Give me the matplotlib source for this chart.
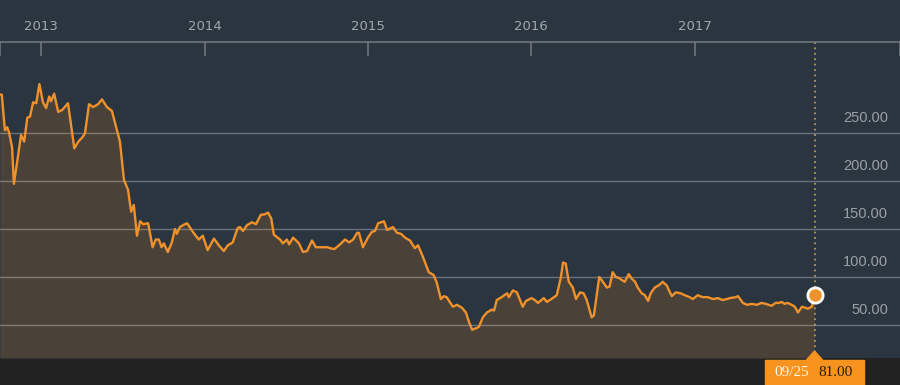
import pandas as pd
import matplotlib
matplotlib.use('Agg')
import matplotlib.pyplot as plt
from matplotlib.patches import Rectangle, Polygon

# price series
dates = ['2012-10-01', '2012-10-05', '2012-10-12', '2012-10-17', '2012-10-21', '2012-10-28',
         '2012-11-01', '2012-11-10', '2012-11-17', '2012-11-24', '2012-12-01', '2012-12-07',
         '2012-12-14', '2012-12-21', '2012-12-28', '2013-01-05', '2013-01-12', '2013-01-19',
         '2013-01-23', '2013-01-30', '2013-02-08', '2013-02-17', '2013-03-02', '2013-03-16',
         '2013-03-25', '2013-04-04', '2013-04-09', '2013-04-18', '2013-04-27', '2013-05-08',
         '2013-05-17', '2013-05-28', '2013-06-08', '2013-06-26', '2013-07-05', '2013-07-14',
         '2013-07-21', '2013-07-27', '2013-08-03', '2013-08-10', '2013-08-17', '2013-08-28',
         '2013-09-07', '2013-09-14', '2013-09-21', '2013-09-27', '2013-10-02', '2013-10-11',
         '2013-10-20', '2013-10-27', '2013-10-31', '2013-11-07', '2013-11-14', '2013-11-23',
         '2013-12-06', '2013-12-19', '2013-12-28', '2014-01-08', '2014-01-22', '2014-02-02',
         '2014-02-13', '2014-02-22', '2014-03-05', '2014-03-16', '2014-03-21', '2014-03-28',
         '2014-04-06', '2014-04-17', '2014-04-26', '2014-05-07', '2014-05-14', '2014-05-23',
         '2014-05-30', '2014-06-05', '2014-06-19', '2014-06-25', '2014-07-04', '2014-07-09',
         '2014-07-18', '2014-07-31', '2014-08-09', '2014-08-18', '2014-08-29', '2014-09-07',
         '2014-10-02', '2014-10-09', '2014-10-18', '2014-10-31', '2014-11-11', '2014-11-20',
         '2014-11-29', '2014-12-08', '2014-12-12', '2014-12-21', '2015-01-01', '2015-01-10',
         '2015-01-17', '2015-01-24', '2015-02-06', '2015-02-13', '2015-02-26', '2015-03-07',
         '2015-03-16', '2015-03-25', '2015-04-05', '2015-04-16', '2015-04-23', '2015-05-04',
         '2015-05-17', '2015-05-28', '2015-06-04', '2015-06-13', '2015-06-20', '2015-06-26',
         '2015-07-03', '2015-07-10', '2015-07-19', '2015-07-30', '2015-08-08', '2015-08-15',
         '2015-08-22', '2015-09-02', '2015-09-06', '2015-09-15', '2015-09-24', '2015-10-05',
         '2015-10-10', '2015-10-16', '2015-10-27', '2015-11-08', '2015-11-12', '2015-11-21',
         '2015-11-30', '2015-12-13', '2015-12-20', '2016-01-02', '2016-01-09', '2016-01-16',
         '2016-01-29', '2016-02-05', '2016-02-18', '2016-02-27', '2016-03-07', '2016-03-12',
         '2016-03-18', '2016-03-25', '2016-04-03', '2016-04-10', '2016-04-19', '2016-04-27',
         '2016-05-04', '2016-05-15', '2016-05-20', '2016-06-01', '2016-06-09', '2016-06-18',
         '2016-06-24', '2016-07-01', '2016-07-08', '2016-07-15', '2016-07-21', '2016-07-28',
         '2016-08-06', '2016-08-13', '2016-08-20', '2016-08-26', '2016-09-04', '2016-09-11',
         '2016-09-18', '2016-09-24', '2016-10-03', '2016-10-14', '2016-10-21', '2016-10-30',
         '2016-11-10', '2016-11-19', '2016-11-30', '2016-12-09', '2016-12-20', '2016-12-27',
         '2017-01-07', '2017-01-18', '2017-01-29', '2017-02-10', '2017-02-21', '2017-03-04',
         '2017-03-13', '2017-03-20', '2017-04-02', '2017-04-07', '2017-04-18', '2017-04-27',
         '2017-05-08', '2017-05-19', '2017-05-30', '2017-06-08', '2017-06-21', '2017-06-30',
         '2017-07-07', '2017-07-14', '2017-07-20', '2017-07-27', '2017-08-05', '2017-08-12',
         '2017-08-19', '2017-08-28', '2017-09-04', '2017-09-10', '2017-09-19', '2017-09-25']
prices = [290, 290, 253, 256, 251, 235, 197, 225, 248, 241, 266, 267,
          282, 281, 301, 282, 276, 288, 283, 291, 272, 274, 281, 234,
          241, 246, 250, 280, 277, 280, 285, 277, 273, 241, 201, 191,
          168, 175, 143, 158, 155, 156, 131, 139, 139, 131, 135, 126,
          136, 150, 145, 152, 154, 156, 147, 139, 143, 128, 140, 133,
          127, 133, 136, 151, 152, 148, 154, 157, 155, 165, 165, 167,
          161, 144, 139, 135, 139, 134, 141, 135, 126, 127, 138, 131,
          131, 130, 129, 134, 139, 136, 139, 146, 146, 131, 141, 147,
          148, 156, 158, 149, 152, 146, 145, 141, 138, 130, 133, 121,
          105, 102, 94, 77, 80, 79, 74, 69, 71, 68, 63, 53,
          45, 47, 48, 58, 63, 66, 65, 76, 79, 83, 79, 86,
          84, 69, 75, 78, 76, 73, 78, 74, 78, 81, 99, 115,
          114, 95, 89, 77, 84, 83, 76, 58, 60, 100, 95, 89,
          90, 105, 100, 99, 97, 95, 103, 98, 95, 89, 83, 81,
          75, 83, 89, 92, 95, 91, 80, 84, 83, 81, 79, 77,
          81, 79, 79, 77, 78, 76, 77, 78, 79, 80, 73, 71,
          72, 71, 73, 72, 70, 73, 73, 74, 72, 73, 71, 69,
          63, 69, 68, 67, 69, 81]

years = ['2013', '2014', '2015', '2016', '2017']
y_ticks = [50, 100, 150, 200, 250]
last_label = '09/25'
last_value = 81.00

bg = '#2b3540'
orange = '#f0922b'
fill_col = '#4a4139'
axis_col = '#6f757c'

dates = pd.to_datetime(dates)

fig = plt.figure(figsize=(9, 3.85), dpi=100)
fig.patch.set_facecolor(bg)
ax = fig.add_axes([0, 27 / 385, 1, 316 / 385])
ax.set_facecolor(bg)

ymin = 15.6
ax.fill_between(dates, prices, ymin, color=fill_col, lw=0, zorder=1)
ax.plot(dates, prices, color=orange, lw=1.7, zorder=3, solid_joinstyle='round')

ax.set_xlim(pd.Timestamp('2012-10-01'), pd.Timestamp('2018-04-04'))
ax.set_ylim(ymin, 344.8)

# top axis with year ticks
ax.xaxis.tick_top()
ax.set_xticks([pd.Timestamp(y + '-01-01') for y in years])
ax.set_xticklabels(years)
ax.set_xticks(list(ax.get_xlim()), minor=True)
ax.tick_params(axis='x', which='both', direction='in', length=10, width=1.2,
               color=axis_col, labelcolor='#a3a8ad', labelsize=9.5, pad=6.5)
ax.tick_params(axis='x', which='minor', labeltop=False)
for s in ['left', 'right', 'bottom']:
    ax.spines[s].set_visible(False)
ax.spines['top'].set_color(axis_col)
ax.spines['top'].set_linewidth(1.2)

ax.set_yticks(y_ticks)
ax.tick_params(axis='y', length=0, labelleft=False)
ax.yaxis.grid(True, color='white', alpha=0.3, lw=1)
ax.set_axisbelow(False)
for v in y_ticks:
    ax.text(0.9867, v + 15.6, '{:.2f}'.format(v), transform=ax.get_yaxis_transform(),
            ha='right', va='center', color='#9ba0a6', fontsize=10.5,
            family='Liberation Sans')

# last value marker
last_date = dates[-1]
ax.axvline(last_date, color='#b39a5c', ls=(0, (1, 2)), lw=1.3, zorder=2)
ax.plot(last_date, prices[-1], 'o', ms=11, mfc=orange, mec='white', mew=2,
        zorder=5, clip_on=False)

# bottom bar with the date / value tag
fig.add_artist(Rectangle((0, 0), 1, 27 / 385, transform=fig.transFigure,
                         color='#222222', zorder=0))
fig.canvas.draw()
xpix = ax.transData.transform((matplotlib.dates.date2num(last_date), ymin))[0]
xf = xpix / 900
fig.add_artist(Rectangle((xf - 50 / 900, 0), 99 / 900, 25 / 385, transform=fig.transFigure,
                         color='#f7931e', zorder=1))
fig.add_artist(Polygon([(xf - 8 / 900, 25 / 385), (xf + 8 / 900, 25 / 385), (xf, 34 / 385)],
                       closed=True, transform=fig.transFigure, color='#f7931e', zorder=1))
fig.text(xf - 23 / 900, 12 / 385, last_label, color='#fff4e4', family='Liberation Serif',
         fontsize=11, ha='center', va='center')
fig.text(xf + 21 / 900, 12 / 385, '{:.2f}'.format(last_value), color='#2a1c0c',
         family='Liberation Serif', fontsize=11, ha='center', va='center')

plt.savefig('out.png', dpi=100, facecolor=bg)
plt.close(fig)
